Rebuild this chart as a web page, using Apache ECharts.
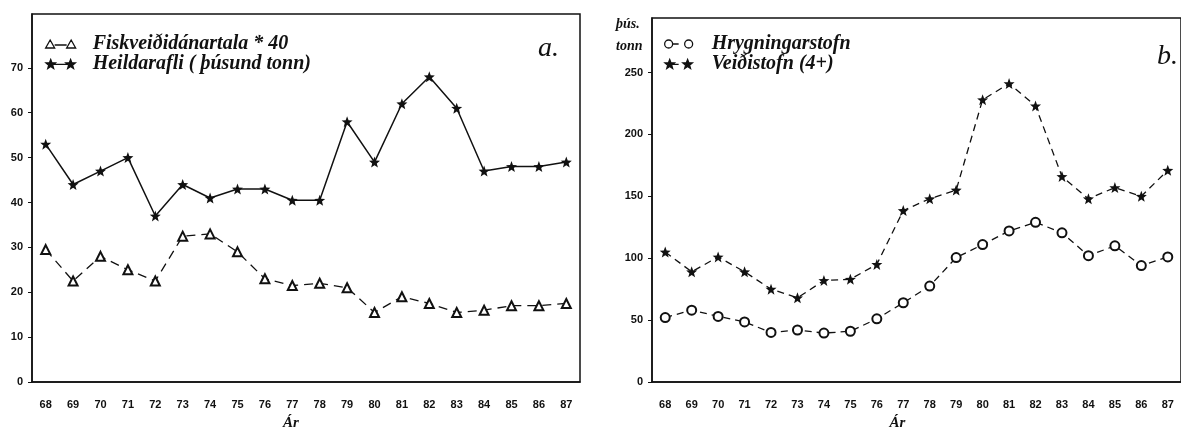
<!DOCTYPE html>
<html>
<head>
<meta charset="utf-8">
<script src="https://cdn.jsdelivr.net/npm/echarts@6/dist/echarts.min.js"></script>
<style>
html, body { margin: 0; background: #fff; }
#chart { width: 1181px; height: 436px; }
</style>
</head>
<body>
<div id="chart"></div>
<script>
// years on both x axes
const years = ['68', '69', '70', '71', '72', '73', '74', '75', '76', '77',
    '78', '79', '80', '81', '82', '83', '84', '85', '86', '87']

// panel a
const fiskveidi = [29.5, 22.5, 28, 25, 22.5, 32.5, 33, 29, 23, 21.5, 22, 21, 15.5, 19, 17.5, 15.5, 16, 17, 17, 17.5]
const heildarafli = [53, 44, 47, 50, 37, 44, 41, 43, 43, 40.5, 40.5, 58, 49, 62, 68, 61, 47, 48, 48, 49]
const yTicksA = [0, 10, 20, 30, 40, 50, 60, 70]

// panel b
const hrygning = [52, 58, 53, 48.5, 40, 42, 39.5, 41, 51, 64, 77.5, 100.5, 111, 122, 129, 120.5, 102, 110, 94, 101]
const veidistofn = [105, 89, 101, 89, 75, 68, 82, 83, 95, 138.5, 148, 155, 228, 241, 223, 166, 148, 157, 150, 171]
const yTicksB = [0, 50, 100, 150, 200, 250]

function star(cx, cy, R, r) {
    let d = ''
    for (let i = 0; i < 10; i++) {
        const rad = i % 2 ? r : R
        const a = -Math.PI / 2 + i * Math.PI / 5
        d += (i ? 'L' : 'M') + (cx + rad * Math.cos(a)).toFixed(2) + ',' + (cy + rad * Math.sin(a)).toFixed(2)
    }
    return d + 'Z'
}
const starSymbol = 'path://' + star(10, 10, 10, 4.2)
const triPair = 'path://M0,9L4.5,1L9,9Z M9,6L21,6 M21,9L25.5,1L30,9Z'
const starPair = 'path://' + star(5, 5, 5, 2.1) + ' M9,5L21,5 ' + star(25, 5, 5, 2.1)
const circPair = 'path://M0,5a4,4 0 1,0 8,0a4,4 0 1,0 -8,0 M8,5L14,5 M20,5a4,4 0 1,0 8,0a4,4 0 1,0 -8,0'
const starPairB = 'path://' + star(5, 5, 5, 2.1) + ' M9,5L14,5 ' + star(23, 5, 5, 2.1)

const ink = '#111'
const tickFont = { fontFamily: 'Liberation Sans', fontWeight: 'bold', fontSize: 11, color: ink }
const serif = 'Liberation Serif'

function xAxis(gridIndex, pad) {
    return {
        type: 'category', gridIndex, data: years, boundaryGap: true,
        axisLine: { lineStyle: { color: ink, width: 1.5 } },
        axisTick: { alignWithLabel: true, length: 5, lineStyle: { color: ink } },
        axisLabel: Object.assign({ margin: 17 }, tickFont),
        name: 'Ár', nameLocation: 'middle', nameGap: 34,
        nameTextStyle: { fontFamily: serif, fontStyle: 'italic', fontWeight: 'bold', fontSize: 15, color: ink, padding: pad }
    }
}
function yAxis(gridIndex, max, ticks) {
    return {
        type: 'value', gridIndex, min: 0, max,
        splitLine: { show: false },
        axisLine: { show: true, lineStyle: { color: ink, width: 1.5 } },
        axisTick: { show: true, length: 4, customValues: ticks, lineStyle: { color: ink } },
        axisLabel: Object.assign({ margin: 9, customValues: ticks, padding: [0, 0, 5, 0] }, tickFont)
    }
}

const chart = echarts.init(document.getElementById('chart'))
chart.setOption({
    animation: false,
    backgroundColor: '#fff',
    title: [
        { text: 'a.', left: 533, top: 30, textStyle: { fontFamily: serif, fontStyle: 'italic', fontWeight: 'normal', fontSize: 28, color: ink } },
        { text: 'b.', left: 1152, top: 38, textStyle: { fontFamily: serif, fontStyle: 'italic', fontWeight: 'normal', fontSize: 28, color: ink } },
        { text: 'þús.\ntonn', left: 611, top: 8, textStyle: { fontFamily: serif, fontStyle: 'italic', fontWeight: 'bold', fontSize: 14, lineHeight: 22, color: ink } }
    ],
    legend: [
        {
            left: 45, top: 34, orient: 'vertical', itemGap: 0, padding: 0,
            itemWidth: 30, itemHeight: 9,
            textStyle: { fontFamily: serif, fontStyle: 'italic', fontWeight: 'bold', fontSize: 20, lineHeight: 19, color: ink, padding: [0, 0, 0, 12] },
            data: [
                { name: 'Fiskveiðidánartala * 40', icon: triPair, itemStyle: { color: '#fff', borderColor: ink, borderWidth: 1.3 } },
                { name: 'Heildarafli ( þúsund tonn)', icon: starPair, itemStyle: { color: ink, borderColor: ink, borderWidth: 1.3 } }
            ]
        },
        {
            left: 664, top: 34, orient: 'vertical', itemGap: 0, padding: 0,
            itemWidth: 28, itemHeight: 9,
            textStyle: { fontFamily: serif, fontStyle: 'italic', fontWeight: 'bold', fontSize: 20, lineHeight: 20, color: ink, padding: [0, 0, 0, 14] },
            data: [
                { name: 'Hrygningarstofn', icon: circPair, itemStyle: { color: '#fff', borderColor: ink, borderWidth: 1.3 } },
                { name: 'Veiðistofn (4+)', icon: starPairB, itemStyle: { color: ink, borderColor: ink, borderWidth: 1.3 } }
            ]
        }
    ],
    grid: [
        { left: 32, top: 14, width: 548, height: 371, show: true, borderColor: ink, borderWidth: 1.5 },
        { left: 652, top: 18, width: 540, height: 371, show: true, borderColor: ink, borderWidth: 1.5 }
    ],
    xAxis: [xAxis(0, [0, 30, 0, 0]), xAxis(1, [0, 38, 0, 0])],
    yAxis: [yAxis(0, 82, yTicksA), yAxis(1, 294, yTicksB)],
    series: [
        {
            name: 'Fiskveiðidánartala * 40', type: 'line', xAxisIndex: 0, yAxisIndex: 0,
            data: fiskveidi, symbol: 'emptyTriangle', symbolSize: 9, color: ink,
            lineStyle: { color: ink, width: 1.3, type: [9, 6] }
        },
        {
            name: 'Heildarafli ( þúsund tonn)', type: 'line', xAxisIndex: 0, yAxisIndex: 0,
            data: heildarafli, symbol: starSymbol, symbolSize: 11, color: ink,
            lineStyle: { color: ink, width: 1.5 }
        },
        {
            name: 'Hrygningarstofn', type: 'line', xAxisIndex: 1, yAxisIndex: 1,
            data: hrygning, symbol: 'emptyCircle', symbolSize: 9, color: ink,
            lineStyle: { color: ink, width: 1.3, type: [7, 5] }
        },
        {
            name: 'Veiðistofn (4+)', type: 'line', xAxisIndex: 1, yAxisIndex: 1,
            data: veidistofn, symbol: starSymbol, symbolSize: 11, color: ink,
            lineStyle: { color: ink, width: 1.3, type: [7, 5] }
        }
    ]
})
</script>
</body>
</html>
